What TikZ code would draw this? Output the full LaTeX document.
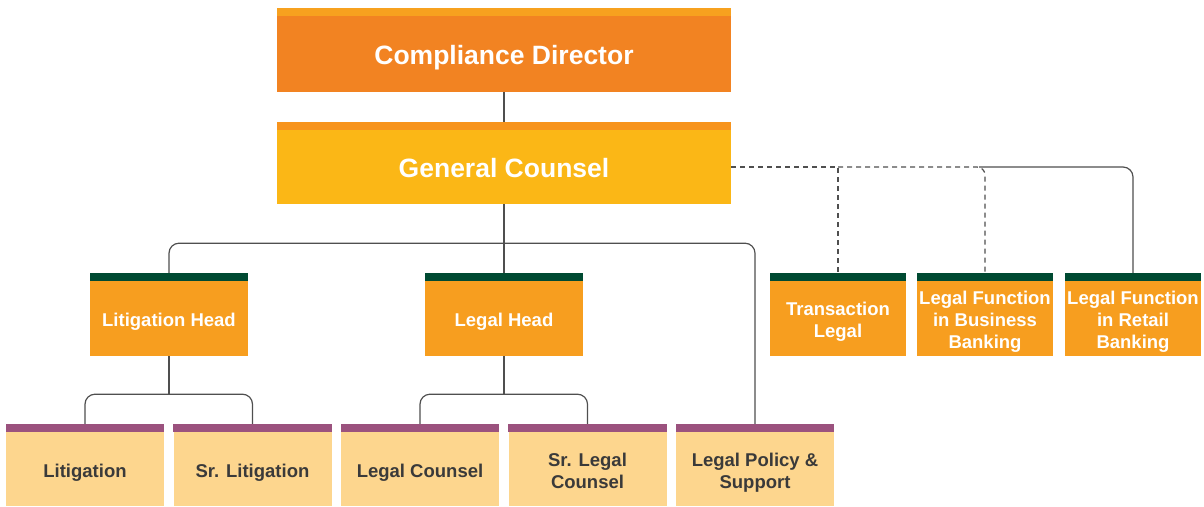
\documentclass[tikz,border=0pt]{standalone}
\usepackage{fontspec}
\setmainfont{Liberation Sans}
\newcommand\bigtext[1]{\begin{tabular}{@{}c@{}}\rule{0pt}{29pt}#1\end{tabular}}
\newcommand\smalltext[1]{\begin{tabular}{@{}c@{}}\rule{0pt}{23pt}#1\end{tabular}}
\begin{document}
\definecolor{cdstripe}{HTML}{F7A11F}
\definecolor{cdbody}{HTML}{F28322}
\definecolor{gcstripe}{HTML}{F7941D}
\definecolor{gcbody}{HTML}{FBB716}
\definecolor{midstripe}{HTML}{004A32}
\definecolor{midbody}{HTML}{F79E1F}
\definecolor{lowstripe}{HTML}{9B527E}
\definecolor{lowbody}{HTML}{FDD68E}
\definecolor{lowtext}{HTML}{3A3A3A}
\definecolor{linec}{HTML}{4F4F4F}
\begin{tikzpicture}[x=1pt,y=-1pt,
  stripe/.style={append after command={\pgfextra{\pgfinterruptpath
      \fill[#1] (\tikzlastnode.north west) rectangle ([yshift=8pt]\tikzlastnode.north east);
      \endpgfinterruptpath}}},
  box/.style={rectangle, inner sep=0pt},
  bigtxt/.style={font=\fontsize{26.5}{30}\selectfont\bfseries},
  smalltxt/.style={font=\fontsize{18.5}{22}\selectfont\bfseries},
  topbox/.style={box, bigtxt, minimum width=454pt, text=white},
  midbox/.style={box, smalltxt, fill=midbody, stripe=midstripe, minimum height=75pt, text=white},
  lowbox/.style={box, smalltxt, fill=lowbody, stripe=lowstripe, minimum height=74pt, minimum width=158pt, text=lowtext},
  conn/.style={draw=linec, line width=1.2pt},
  dconn/.style={conn, dash pattern=on 5pt off 4pt}
]
\useasboundingbox (0,0) rectangle (1204,506);

% top boxes
\node[topbox, fill=cdbody, stripe=cdstripe, minimum height=76pt] (cd) at (504,54) {\bigtext{Compliance Director}};
\node[topbox, fill=gcbody, stripe=gcstripe, minimum height=74pt] (gc) at (504,167) {\bigtext{General Counsel}};

% middle boxes
\node[midbox, minimum width=158pt] (lith) at (169,318.5) {\smalltext{Litigation Head}};
\node[midbox, minimum width=158pt] (legh) at (504,318.5) {\smalltext{Legal Head}};
\node[midbox, minimum width=136pt] (tl) at (838,318.5) {\smalltext{Transaction\\Legal}};
\node[midbox, minimum width=136pt] (lfb) at (985,318.5) {\smalltext{Legal Function\\in Business\\Banking}};
\node[midbox, minimum width=136pt] (lfr) at (1133,318.5) {\smalltext{Legal Function\\in Retail\\Banking}};

% bottom boxes
\node[lowbox] (lit) at (85,469) {\smalltext{Litigation}};
\node[lowbox] (srlit) at (252.5,469) {\smalltext{Sr. Litigation}};
\node[lowbox] (lc) at (420,469) {\smalltext{Legal Counsel}};
\node[lowbox] (slc) at (587.5,469) {\smalltext{Sr. Legal\\Counsel}};
\node[lowbox] (pol) at (755,469) {\smalltext{Legal Policy \&\\Support}};

% connectors
\draw[conn] (cd.south) -- ([yshift=8pt]gc.north);
\draw[conn] (gc.south) -- ([yshift=8pt]legh.north);
\draw[conn, rounded corners=10pt] ([yshift=8pt]lith.north) |- ([yshift=-39pt]gc.south) -| ([yshift=8pt]pol.north);

\draw[conn] (lith.south) -- ([yshift=-38pt]lith.south);
\draw[conn, rounded corners=10pt] ([yshift=8pt]lit.north) |- ([yshift=-38pt]lith.south) -| ([yshift=8pt]srlit.north);
\draw[conn] (legh.south) -- ([yshift=-38pt]legh.south);
\draw[conn, rounded corners=10pt] ([yshift=8pt]lc.north) |- ([yshift=-38pt]legh.south) -| ([yshift=8pt]slc.north);

\draw[dconn] (gc.east) -| ([yshift=8pt]tl.north);
\draw[dconn, rounded corners=8pt] (tl.north |- gc.east) -| ([yshift=8pt]lfb.north);
\draw[conn, rounded corners=10pt] ([xshift=-6pt]lfb.north |- gc.east) -| ([yshift=8pt]lfr.north);
\end{tikzpicture}
\end{document}
